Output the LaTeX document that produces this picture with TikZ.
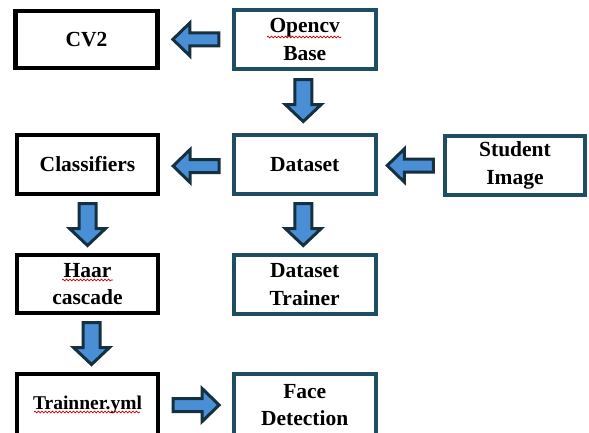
\documentclass[tikz,border=0pt]{standalone}
\usepackage{fontspec}
\setmainfont{Liberation Serif}
\usetikzlibrary{calc,decorations.pathmorphing}
\definecolor{teal1}{HTML}{1F4E63}
\definecolor{arrfill}{HTML}{4A8FD6}
\definecolor{arrline}{HTML}{15303E}
\tikzset{
  boxblack/.style={draw=black, line width=4.5pt, fill=white, inner sep=0pt, align=center,
    font=\fontsize{21.5}{27.5}\selectfont\bfseries},
  boxteal/.style={draw=teal1, line width=4pt, fill=white, inner sep=0pt, align=center,
    font=\fontsize{21.5}{27.5}\selectfont\bfseries},
  arrowstyle/.style={draw=arrline, fill=arrfill, line width=3pt, line join=miter},
  squig/.style={draw=red!80!black, line width=0.7pt, decorate,
    decoration={snake, segment length=3.5pt, amplitude=0.9pt}}
}
\newcommand\harrow[2]{%
  \draw[arrowstyle, shift={(#1)}, rotate=#2]
    (-23,-6.5) -- (6,-6.5) -- (6,-16.5) -- (23,0) -- (6,16.5) -- (6,6.5) -- (-23,6.5) -- cycle;}
\newcommand\varrow[1]{%
  \draw[arrowstyle, shift={(#1)}]
    (-8.5,-21) -- (8.5,-21) -- (8.5,4) -- (18,4) -- (0,21) -- (-18,4) -- (-8.5,4) -- cycle;}
\begin{document}
\begin{tikzpicture}[x=1pt,y=-1pt]
\useasboundingbox (0,0) rectangle (589,432);
\fill[white] (0,0) rectangle (589,432);
% boxes
\node[boxblack, minimum width=142pt, minimum height=57pt] (cv2) at (86.5,39.25) {CV2};
\node[boxteal, minimum width=141.5pt, minimum height=59pt] (opencv) at (304.75,39.5) {Opencv\\Base};
\node[boxblack, minimum width=141pt, minimum height=59pt] (classifiers) at (87.5,164.5) {Classifiers};
\node[boxteal, minimum width=141.5pt, minimum height=59pt] (dataset) at (304.75,164.5) {Dataset};
\node[boxteal, minimum width=140pt, minimum height=59pt] (student) at (515,165.5) {Student\\Image};
\node[boxblack, minimum width=141pt, minimum height=58pt] (haar) at (87.5,284) {Haar\\cascade};
\node[boxteal, minimum width=141.5pt, minimum height=59pt] (trainer) at (304.75,284.5) {Dataset\\Trainer};
\node[boxblack, minimum width=141pt, minimum height=62pt, font=\fontsize{19.5}{24}\selectfont\bfseries] (trainner) at (87.5,405) {Trainner.yml};
\node[boxteal, minimum width=141.5pt, minimum height=62pt] (face) at (304.75,405) {Face\\Detection};
% arrow positions
\coordinate (a1) at ($(cv2.east)!0.5!(opencv.west)$);
\coordinate (a2) at ($(opencv.south)!0.5!(dataset.north)+(-1.5,-1.5)$);
\coordinate (a3) at ($(classifiers.east)!0.5!(dataset.west)+(0,1.5)$);
\coordinate (a4) at ($(dataset.east)!0.5!(student.west)+(0,0.5)$);
\coordinate (a5) at ($(classifiers.south)!0.5!(haar.north)$);
\coordinate (a6) at ($(dataset.south)!0.5!(trainer.north)+(-1.5,0)$);
\coordinate (a7) at ($(haar.south)!0.5!(trainner.north)+(4,0)$);
\coordinate (a8) at ($(trainner.east)!0.5!(face.west)$);
\harrow{a1}{180}
\varrow{a2}
\harrow{a3}{180}
\harrow{a4}{180}
\varrow{a5}
\varrow{a6}
\varrow{a7}
\harrow{a8}{0}
% spell-check underlines
\draw[squig] (267,37) -- (341,37);
\draw[squig] (62,280) -- (113,280);
\draw[squig] (34,412) -- (140,412);
\end{tikzpicture}
\end{document}
